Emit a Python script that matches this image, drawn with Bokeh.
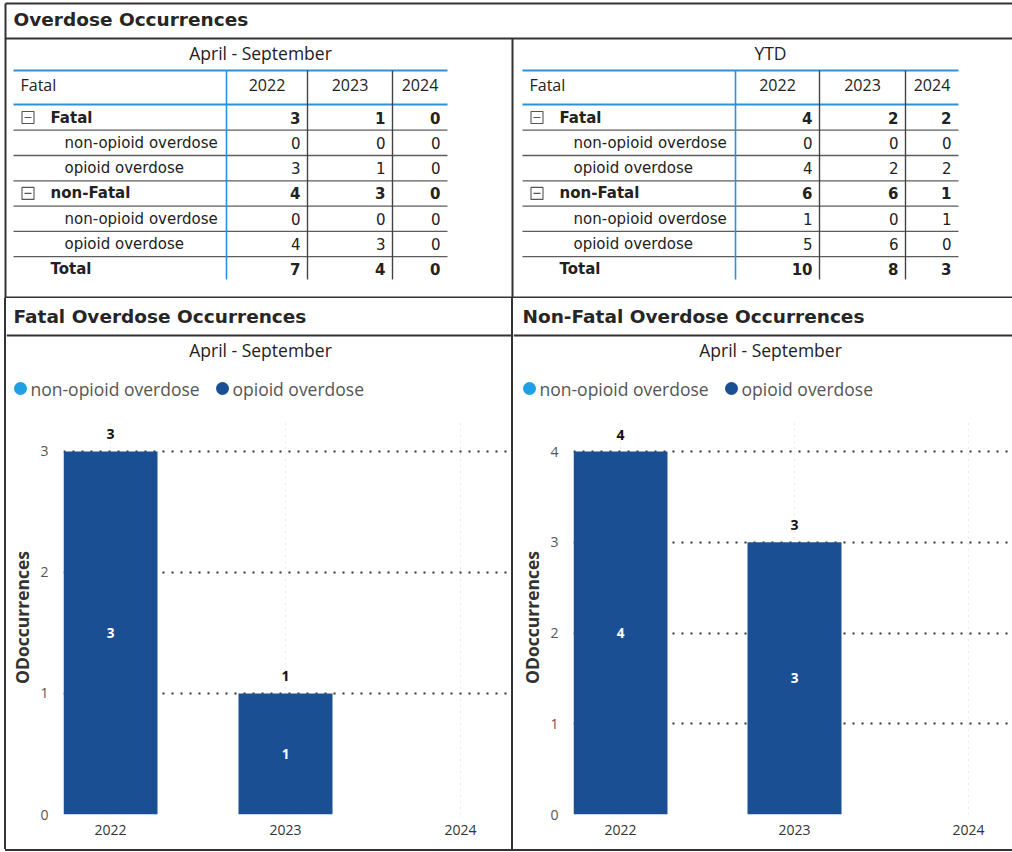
from bokeh.plotting import figure
from bokeh.layouts import column, row
from bokeh.models import Range1d, FixedTicker, SingleIntervalTicker, ColumnDataSource, LabelSet, Div
from bokeh.core.properties import value
from bokeh.embed import file_html
from bokeh.resources import INLINE

# ---------------- data ----------------
years = [2022, 2023, 2024]
year_labels = ["2022", "2023", "2024"]
series_names = ["non-opioid overdose", "opioid overdose"]
series_colors = ["#1e9fe6", "#1b4f93"]

# April - September
aprsep_fatal_nonopioid = [0, 0, 0]
aprsep_fatal_opioid = [3, 1, 0]
aprsep_nonfatal_nonopioid = [0, 0, 0]
aprsep_nonfatal_opioid = [4, 3, 0]
# YTD
ytd_fatal_nonopioid = [0, 0, 0]
ytd_fatal_opioid = [4, 2, 2]
ytd_nonfatal_nonopioid = [1, 0, 1]
ytd_nonfatal_opioid = [5, 6, 0]

dashboard_title = "Overdose Occurrences"
period_labels = ["April - September", "YTD"]
chart_titles = ["Fatal Overdose Occurrences", "Non-Fatal Overdose Occurrences"]
y_axis_title = "ODoccurrences"
row_header = "Fatal"
group_labels = ["Fatal", "non-Fatal"]
total_label = "Total"

# ---------------- style ----------------
FRAME = "#333333"
BLUE = "#2b92da"
TXT = "#222222"
W = 1012
TOP_H = 298
HEAD_H = 110
CHART_H = 441
LW, RW = 505, 499


def add(a, b):
    return [x + y for x, y in zip(a, b)]


def table_rows(fn, fo, nn, no):
    f = add(fn, fo)
    n = add(nn, no)
    t = add(f, n)
    return [
        (group_labels[0], "group", f),
        (series_names[0], "sub", fn),
        (series_names[1], "sub", fo),
        (group_labels[1], "group", n),
        (series_names[0], "sub", nn),
        (series_names[1], "sub", no),
        (total_label, "total", t),
    ]


def canvas(w, h):
    p = figure(width=w, height=h, x_range=Range1d(0, w), y_range=Range1d(h, 0),
               toolbar_location=None, output_backend="svg", min_border=0,
               x_axis_location=None, y_axis_location=None, outline_line_color=None)
    p.grid.visible = False
    return p


def draw_table(p, edges, subtitle, subtitle_x, rows):
    x0, xe = edges[0], edges[-1]
    p.text(x=[subtitle_x], y=[52], text=[subtitle], text_align="center", text_baseline="middle",
           text_font=value("Open Sans"), text_font_size="17.5px", text_color=TXT)
    p.segment(x0=[x0, x0], y0=[70, 104], x1=[xe, xe], y1=[70, 104], line_color=BLUE, line_width=2)
    p.text(x=[x0 + 7], y=[84], text=[row_header], text_align="left", text_baseline="middle",
           text_font=value("Open Sans"), text_font_size="16px", text_color=TXT)
    centers = [(edges[i + 1] + edges[i + 2]) / 2 for i in range(len(years))]
    p.text(x=centers, y=[84] * len(years), text=year_labels, text_align="center", text_baseline="middle",
           text_font=value("Open Sans"), text_font_size="16px", text_color=TXT)
    row_y = [117 + 25.3 * i for i in range(len(rows))]
    line_y = [y + 12.7 for y in row_y[:-1]]
    p.segment(x0=[x0] * len(line_y), y0=line_y, x1=[xe] * len(line_y), y1=line_y,
              line_color="#5c5c5c", line_width=1.3)
    p.segment(x0=[edges[1]], y0=[70], x1=[edges[1]], y1=[279], line_color=BLUE, line_width=1.6)
    p.segment(x0=edges[2:4], y0=[70, 70], x1=edges[2:4], y1=[279, 279], line_color="#444444", line_width=1.4)
    for (label, kind, vals), y in zip(rows, row_y):
        bold = "bold" if kind != "sub" else "normal"
        lx = x0 + 51 if kind == "sub" else x0 + 37
        p.text(x=[lx], y=[y], text=[label], text_align="left", text_baseline="middle",
               text_font=value("DejaVu Sans"), text_font_size="15px", text_font_style=bold, text_color=TXT)
        vx = [edges[j + 2] - 7 for j in range(len(years))]
        p.text(x=vx, y=[y] * len(vals), text=[str(v) for v in vals], text_align="right", text_baseline="middle",
               text_font=value("DejaVu Sans"), text_font_size="15px", text_font_style=bold, text_color=TXT)
        if kind == "group":
            p.rect(x=[x0 + 14.5], y=[y], width=12, height=12, fill_color=None, line_color="#555555", line_width=1.1)
            p.segment(x0=[x0 + 11], y0=[y], x1=[x0 + 18], y1=[y], line_color="#555555", line_width=1.1)


# ---------------- top: title + tables ----------------
top = canvas(W, TOP_H)
top.segment(x0=[5, 5, 5, 512, 5], y0=[3, 3, 38, 38, 297], x1=[W, 5, W, 512, W], y1=[3, TOP_H, 38, TOP_H, 297],
            line_color=FRAME, line_width=2)
top.text(x=[13], y=[19], text=[dashboard_title], text_align="left", text_baseline="middle",
         text_font=value("DejaVu Sans"), text_font_style="bold", text_font_size="18.5px", text_color="#262626")
draw_table(top, [13, 226, 307, 392, 447], period_labels[0], 260,
           table_rows(aprsep_fatal_nonopioid, aprsep_fatal_opioid, aprsep_nonfatal_nonopioid, aprsep_nonfatal_opioid))
draw_table(top, [522, 735, 819, 905, 958], period_labels[1], 770,
           table_rows(ytd_fatal_nonopioid, ytd_fatal_opioid, ytd_nonfatal_nonopioid, ytd_nonfatal_opioid))


# ---------------- bottom panels ----------------
def make_header(width, title, title_x, subtitle, subtitle_x, legend_x):
    h = canvas(width, HEAD_H)
    h.text(x=[title_x], y=[18], text=[title], text_align="left", text_baseline="middle",
           text_font=value("DejaVu Sans"), text_font_style="bold", text_font_size="18.5px", text_color="#262626")
    h.segment(x0=[0], y0=[37], x1=[width], y1=[37], line_color=FRAME, line_width=2)
    h.text(x=[subtitle_x], y=[51], text=[subtitle], text_align="center", text_baseline="middle",
           text_font=value("Open Sans"), text_font_size="17.5px", text_color=TXT)
    h.scatter(x=[legend_x, legend_x + 202], y=[90, 90], size=13, color=series_colors, line_color=None)
    h.text(x=[legend_x + 10, legend_x + 212], y=[90, 90], text=series_names, text_align="left",
           text_baseline="middle", text_font=value("Open Sans"), text_font_size="17.5px", text_color="#555555")
    return h


def make_chart(width, nonop, op, y_end, left, right, x_start, x_end, bar_w):
    c = figure(width=width, height=CHART_H, x_range=Range1d(x_start, x_end), y_range=Range1d(0, y_end),
               min_border_left=left, min_border_right=right, min_border_top=12, min_border_bottom=35,
               toolbar_location=None, output_backend="svg", outline_line_color=None)
    src = ColumnDataSource(dict(year=years, nonop=nonop, op=op))
    c.vbar_stack(["nonop", "op"], x="year", width=bar_w, fill_color=series_colors, line_color=None, source=src)

    in_x = [yr for yr, o in zip(years, op) if o > 0]
    in_y = [n + o / 2 for n, o in zip(nonop, op) if o > 0]
    in_t = [str(o) for o in op if o > 0]
    c.text(x=in_x, y=in_y, text=in_t, text_align="center", text_baseline="middle",
           text_font=value("Open Sans"), text_font_style="bold", text_font_size="13.5px", text_color="white")

    tot = add(nonop, op)
    lab_src = ColumnDataSource(dict(x=[yr for yr, t in zip(years, tot) if t > 0],
                                    y=[t for t in tot if t > 0],
                                    t=[str(t) for t in tot if t > 0]))
    c.add_layout(LabelSet(x="x", y="y", text="t", source=lab_src, y_offset=17, text_align="center",
                          text_baseline="middle", text_font=value("Open Sans"), text_font_style="bold",
                          text_font_size="14px", text_color="#111111"))

    c.yaxis.ticker = SingleIntervalTicker(interval=1)
    c.ygrid.ticker = SingleIntervalTicker(interval=1)
    c.xaxis.ticker = FixedTicker(ticks=years)
    c.xgrid.ticker = FixedTicker(ticks=years)
    c.xaxis.major_label_overrides = {yr: lb for yr, lb in zip(years, year_labels)}

    c.ygrid.grid_line_color = "#333333"
    c.ygrid.grid_line_dash = "2 7"
    c.ygrid.grid_line_width = 2
    c.xgrid.grid_line_color = "#d2d2d2"
    c.xgrid.grid_line_dash = "1 5"
    c.xgrid.grid_line_width = 1

    for ax in (c.xaxis[0], c.yaxis[0]):
        ax.axis_line_color = None
        ax.major_tick_line_color = None
        ax.minor_tick_line_color = None
        ax.major_tick_out = 0
        ax.major_tick_in = 0
        ax.minor_tick_out = 0
        ax.minor_tick_in = 0
        ax.major_label_text_font = "Open Sans"
    c.yaxis.major_label_text_font_size = "14px"
    c.yaxis.major_label_text_color = "#555555"
    c.yaxis.major_label_standoff = 15
    c.yaxis.axis_label = y_axis_title
    c.yaxis.axis_label_text_font = "Open Sans"
    c.yaxis.axis_label_text_font_style = "bold"
    c.yaxis.axis_label_text_font_size = "17.5px"
    c.yaxis.axis_label_text_color = "#333333"
    c.yaxis.axis_label_standoff = 3
    c.xaxis.major_label_text_font_size = "14px"
    c.xaxis.major_label_text_color = "#333333"
    c.xaxis.major_label_standoff = 10
    return c


def bar_div(w, h, left=0):
    return Div(text="", width=w, height=h, margin=(0, 0, 0, left),
               styles={"background-color": FRAME})


head_l = make_header(LW, chart_titles[0], 7, period_labels[0], 254, 14)
head_r = make_header(RW, chart_titles[1], 9, period_labels[0], 257, 16)
chart_l = make_chart(LW, aprsep_fatal_nonopioid, aprsep_fatal_opioid, 3.256, 57, 1,
                     2022 - 47 / 175, 2022 - 47 / 175 + 447 / 175, 94 / 175)
chart_r = make_chart(RW, aprsep_nonfatal_nonopioid, aprsep_nonfatal_opioid, 4.342, 60, 2,
                     2022 - 47 / 174, 2022 - 47 / 174 + 437 / 174, 94 / 174)

header_row = row(bar_div(2, HEAD_H, 4), head_l, bar_div(2, HEAD_H), head_r)
chart_row = row(bar_div(2, CHART_H, 4), chart_l, bar_div(2, CHART_H), chart_r)
layout = column(top, header_row, chart_row, bar_div(W - 5, 2, 5))

open("out.html", "w").write(file_html(layout, INLINE))
